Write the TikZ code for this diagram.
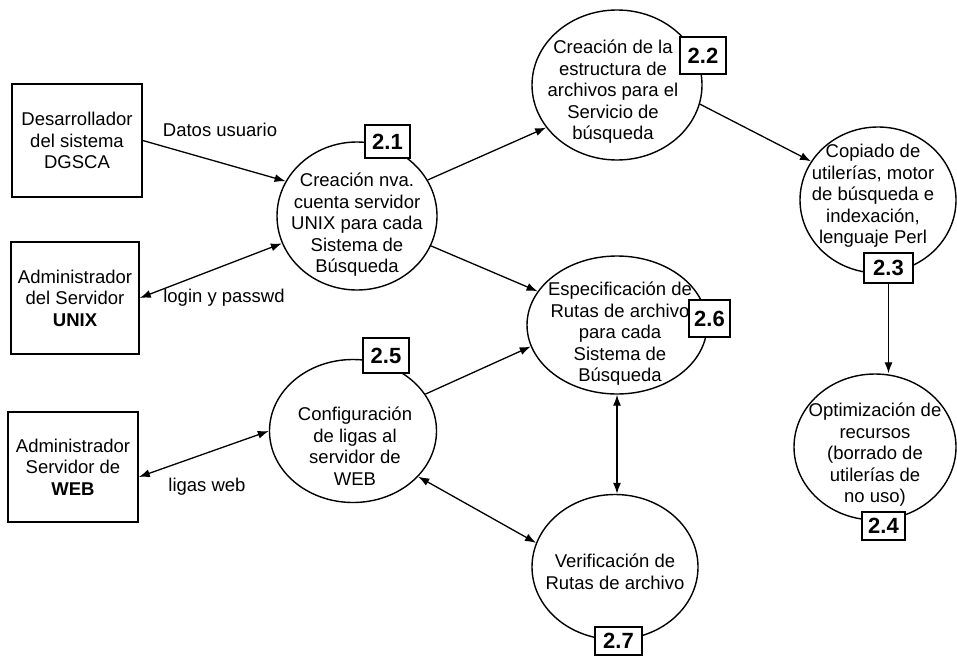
\documentclass[tikz,border=0pt]{standalone}
\usepackage{fontspec}
\setmainfont{Liberation Sans}
\usetikzlibrary{shapes.geometric,arrows.meta}

\begin{document}
\begin{tikzpicture}[x=1pt,y=-1pt,
  every node/.style={font=\fontsize{18.5}{21.5}\selectfont},
  entity/.style={draw, line width=1.6pt, inner sep=0pt, align=center},
  proc/.style={ellipse, draw, line width=1.4pt, inner sep=0pt},
  ptext/.style={align=center, inner sep=0pt},
  tag/.style={draw, fill=white, line width=1.9pt, inner sep=0pt,
              font=\fontsize{22}{24}\selectfont\bfseries},
  flow/.style={line width=1.3pt, -{Latex[length=11pt,width=8pt]}},
  flowboth/.style={line width=1.3pt, {Latex[length=11pt,width=8pt]}-{Latex[length=11pt,width=8pt]}},
  lbl/.style={inner sep=0pt}]

\fill[white] (0,0) rectangle (957,661);
\useasboundingbox (0,0) rectangle (957,661);

% external entities
\node[entity, minimum width=130pt, minimum height=113pt] (b1) at (77,140.5)
  {Desarrollador\\del sistema\\DGSCA};
\node[entity, minimum width=128pt, minimum height=112pt] (b2) at (75,298)
  {Administrador\\del Servidor\\\textbf{UNIX}};
\node[entity, minimum width=130pt, minimum height=110pt] (b3) at (73,467)
  {Administrador\\Servidor de\\\textbf{WEB}};

% processes
\node[proc, minimum width=160pt, minimum height=148pt] (p21) at (357,216) {};
\node[proc, minimum width=170pt, minimum height=150pt] (p22) at (617,85) {};
\node[proc, minimum width=156pt, minimum height=146pt] (p23) at (878,200) {};
\node[proc, minimum width=162pt, minimum height=146pt] (p24) at (875,447) {};
\node[proc, minimum width=167pt, minimum height=143pt] (p25) at (353,431) {};
\node[proc, minimum width=180pt, minimum height=138pt] (p26) at (617,325) {};
\node[proc, minimum width=166pt, minimum height=145pt] (p27) at (615,567) {};

% data flows
\draw[flow] (b1.east) -- (p21.154);
\draw[flowboth] (b2.east) -- (p21.200);
\draw[flowboth] ([yshift=-10pt]b3.east) -- (p25.180);
\draw[flow] (p21.27) -- (p22.211);
\draw[flow] (p21.338) -- (p26.157);
\draw[flow] (p25.27) -- (p26.194);
\draw[flow] (p22.347) -- (p23.150);
\draw[flowboth] (p26.south) -- (p26.south |- p27.north);
\draw[flowboth] (p25.325) -- (p27.163);

% process numbers
\node[tag, minimum width=45pt, minimum height=33pt] (l21) at (387.5,141.5) {2.1};
\node[tag, minimum width=46pt, minimum height=37pt] (l22) at (703,55.5) {2.2};
\node[tag, minimum width=49pt, minimum height=30pt] (l23) at (888.5,268) {2.3};
\node[tag, minimum width=43pt, minimum height=28pt] (l24) at (883.5,526) {2.4};
\node[tag, minimum width=46pt, minimum height=35pt] (l25) at (386,355.5) {2.5};
\node[tag, minimum width=41pt, minimum height=37pt] (l26) at (709.5,318.5) {2.6};
\node[tag, minimum width=47pt, minimum height=28pt] (l27) at (618.5,641) {2.7};

\draw[flow] (l23.south) -- (l23.south |- p24.north);

% process texts
\node[ptext] (t21) at (357,225) {Creación nva.\\cuenta servidor\\UNIX para cada\\Sistema de\\Búsqueda};
\node[ptext] (t22) at (613,92) {Creación de la\\estructura de\\archivos para el\\Servicio de\\búsqueda};
\node[ptext] (t23) at (873,196) {Copiado de\\utilerías, motor\\de búsqueda e\\indexación,\\lenguaje Perl};
\node[ptext] (t24) at (875,455) {Optimización de\\recursos\\(borrado de\\utilerías de\\no uso)};
\node[ptext] (t25) at (355,446) {Configuración\\de ligas al\\servidor de\\WEB};
\node[ptext] (t26) at (620,334) {Especificación de\\Rutas de archivo\\para cada\\Sistema de\\Búsqueda};
\node[ptext] (t27) at (615,572) {Verificación de\\Rutas de archivo};

% flow labels
\node[lbl] (d1) at (220,130) {Datos usuario};
\node[lbl] (d2) at (224,298) {login y passwd};
\node[lbl] (d3) at (207,487) {ligas web};

\end{tikzpicture}
\end{document}
